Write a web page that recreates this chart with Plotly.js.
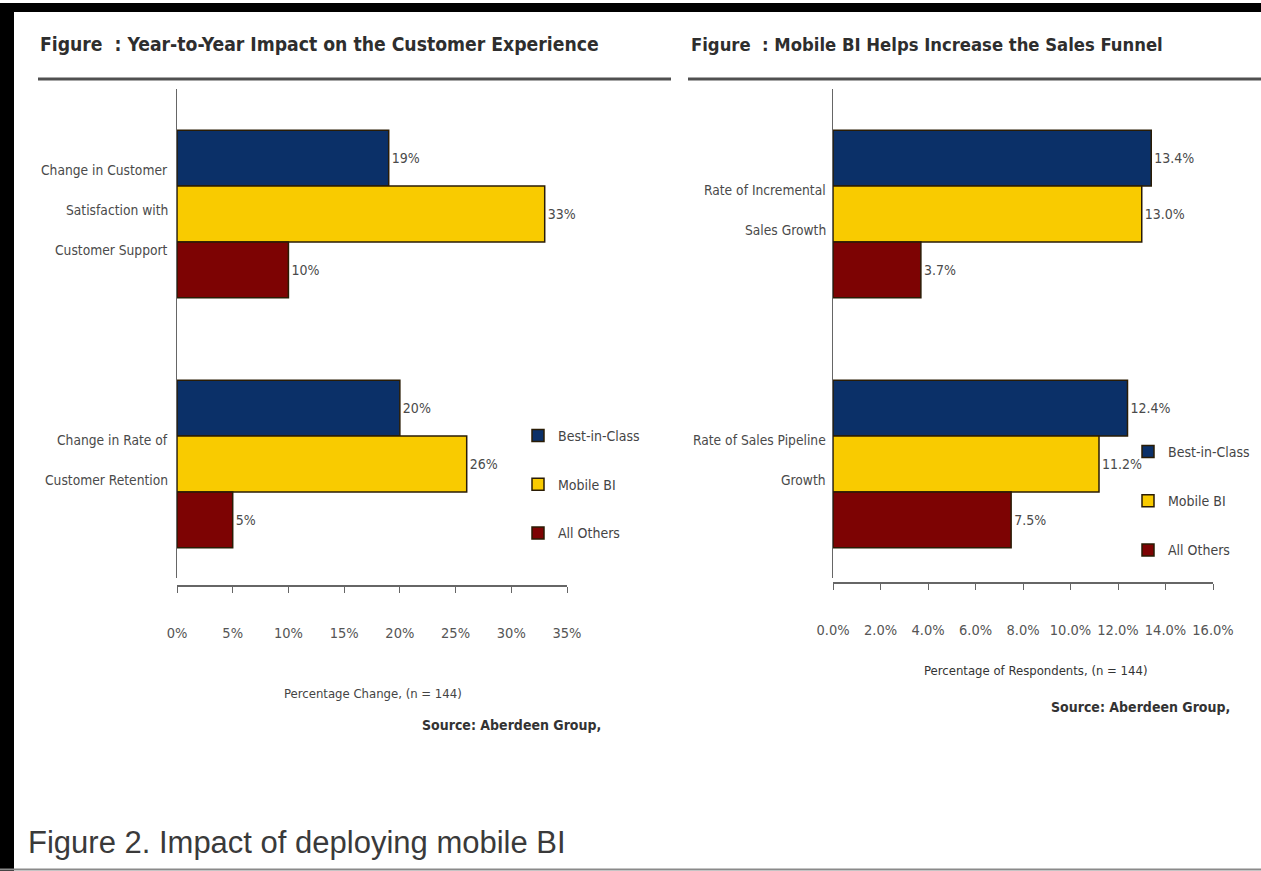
<!DOCTYPE html>
<html>
<head>
<meta charset="utf-8">
<script src="https://cdn.plot.ly/plotly-3.0.1.min.js"></script>
<style>
html,body{margin:0;padding:0;background:#fff;overflow:hidden;width:1261px;height:871px;}
#chart{width:1261px;height:871px;overflow:hidden;}
</style>
</head>
<body>
<div id="chart"></div>
<script>
// ---------- data ----------
const seriesNames = ["Best-in-Class", "Mobile BI", "All Others"];
const seriesColors = ["#0b3068", "#f9cb00", "#7d0303"];

const leftTitle = "Figure  : Year-to-Year Impact on the Customer Experience";
const leftCategories = ["Change in Customer\nSatisfaction with\nCustomer Support", "Change in Rate of\nCustomer Retention"];
const leftBestInClass = [19, 20];
const leftMobileBI = [33, 26];
const leftAllOthers = [10, 5];
const leftTickVals = [0, 5, 10, 15, 20, 25, 30, 35];
const leftAxisTitle = "Percentage Change, (n = 144)";

const rightTitle = "Figure  : Mobile BI Helps Increase the Sales Funnel";
const rightCategories = ["Rate of Incremental\nSales Growth", "Rate of Sales Pipeline\nGrowth"];
const rightBestInClass = [13.4, 12.4];
const rightMobileBI = [13.0, 11.2];
const rightAllOthers = [3.7, 7.5];
const rightTickVals = [0, 2, 4, 6, 8, 10, 12, 14, 16];
const rightAxisTitle = "Percentage of Respondents, (n = 144)";

const sourceText = "Source: Aberdeen Group,";
const footerText = "Figure 2. Impact of deploying mobile BI";

// ---------- helpers ----------
const W = 1261, H = 871;
const px = x => x / W;
const py = y => 1 - y / H;
const NARROW = "DejaVu Sans Condensed, Liberation Sans Narrow, Arial Narrow, sans-serif";
const TITLEF = "DejaVu Sans Condensed, Liberation Sans Narrow, sans-serif";

const leftSeries = [leftBestInClass, leftMobileBI, leftAllOthers];
const rightSeries = [rightBestInClass, rightMobileBI, rightAllOthers];

const traces = [];
seriesNames.forEach((name, i) => {
  traces.push({
    type: "bar", orientation: "h", name: name,
    x: leftSeries[i], y: leftCategories,
    xaxis: "x", yaxis: "y", legend: "legend", legendgroup: "L" + i,
    marker: {color: seriesColors[i], line: {color: "#2a1c05", width: 1.5}},
    text: leftSeries[i].map(v => v.toFixed(0) + "%"),
    textposition: "outside", cliponaxis: false,
    textfont: {family: NARROW, size: 14, color: "#4a4a4a"},
    hoverinfo: "skip"
  });
});
seriesNames.forEach((name, i) => {
  traces.push({
    type: "bar", orientation: "h", name: name,
    x: rightSeries[i], y: rightCategories,
    xaxis: "x2", yaxis: "y2", legend: "legend2", legendgroup: "R" + i,
    marker: {color: seriesColors[i], line: {color: "#2a1c05", width: 1.5}},
    text: rightSeries[i].map(v => v.toFixed(1) + "%"),
    textposition: "outside", cliponaxis: false,
    textfont: {family: NARROW, size: 14, color: "#4a4a4a"},
    hoverinfo: "skip"
  });
});

// category labels (wide line spacing) as annotations
const annotations = [];
function catLabels(cats, yref, xRight) {
  cats.forEach(c => {
    const lines = c.split("\n");
    const n = lines.length;
    lines.forEach((ln, j) => {
      annotations.push({
        text: ln, xref: "paper", yref: yref, x: xRight, y: c,
        xanchor: "right", yanchor: "middle", showarrow: false,
        yshift: ((n - 1) / 2 - j) * 40 + 4,
        font: {family: NARROW, size: 13.7, color: "#4a4a4a"}
      });
    });
  });
}
catLabels(leftCategories, "y", px(170));
catLabels(rightCategories, "y2", px(828));

// titles, axis titles, sources, footer
annotations.push(
  {text: "<b>" + leftTitle + "</b>", xref: "paper", yref: "paper", x: px(38), y: py(44),
   xanchor: "left", yanchor: "middle", showarrow: false, font: {family: TITLEF, size: 19.2, color: "#2e2e2e"}},
  {text: "<b>" + rightTitle + "</b>", xref: "paper", yref: "paper", x: px(689), y: py(44),
   xanchor: "left", yanchor: "middle", showarrow: false, font: {family: TITLEF, size: 18.3, color: "#2e2e2e"}},
  {text: leftAxisTitle, xref: "paper", yref: "paper", x: px(373), y: py(693),
   xanchor: "center", yanchor: "middle", showarrow: false, font: {family: NARROW, size: 13, color: "#444"}},
  {text: rightAxisTitle, xref: "paper", yref: "paper", x: px(1035), y: py(670),
   xanchor: "center", yanchor: "middle", showarrow: false, font: {family: NARROW, size: 13, color: "#333"}},
  {text: "<b>" + sourceText + "</b>", xref: "paper", yref: "paper", x: px(603), y: py(725),
   xanchor: "right", yanchor: "middle", showarrow: false, font: {family: TITLEF, size: 14, color: "#333"}},
  {text: "<b>" + sourceText + "</b>", xref: "paper", yref: "paper", x: px(1232), y: py(707),
   xanchor: "right", yanchor: "middle", showarrow: false, font: {family: TITLEF, size: 14, color: "#333"}},
  {text: footerText, xref: "paper", yref: "paper", x: px(26), y: py(842),
   xanchor: "left", yanchor: "middle", showarrow: false, font: {family: "Liberation Sans, Arial, sans-serif", size: 31, color: "#3a3a3a"}}
);

const shapes = [
  // black frame
  {type: "rect", xref: "paper", yref: "paper", x0: 0, x1: 1, y0: py(12), y1: py(3), fillcolor: "#000", line: {width: 0}},
  {type: "rect", xref: "paper", yref: "paper", x0: 0, x1: px(14), y0: 0, y1: py(3), fillcolor: "#000", line: {width: 0}},
  // bottom grey line
  {type: "line", xref: "paper", yref: "paper", x0: 0, x1: 1, y0: py(869.5), y1: py(869.5), line: {color: "#8a8a8a", width: 2}},
  // title rules
  {type: "line", xref: "paper", yref: "paper", x0: px(38), x1: px(671), y0: py(79), y1: py(79), line: {color: "#505050", width: 3}},
  {type: "line", xref: "paper", yref: "paper", x0: px(688), x1: 1, y0: py(79), y1: py(79), line: {color: "#505050", width: 3}}
];

const xCommon = {
  showgrid: false, zeroline: false, showline: true, linecolor: "#666", linewidth: 2,
  ticks: "outside", ticklen: 6, tickcolor: "#666", tickwidth: 1, tickangle: 0,
  tickfont: {family: NARROW, size: 14.5, color: "#555"},
  ticklabelstandoff: 28, fixedrange: true, anchor: "free"
};
const yCommon = {
  type: "category", showgrid: false, zeroline: false, showline: true, linecolor: "#666", linewidth: 1,
  showticklabels: false, ticks: "", fixedrange: true
};

const layout = {
  width: W, height: H, autosize: false,
  margin: {l: 0, r: 0, t: 0, b: 0, pad: 0},
  paper_bgcolor: "#fff", plot_bgcolor: "#fff",
  barmode: "group", bargap: 0.33, bargroupgap: 0,
  showlegend: true,
  xaxis: Object.assign({}, xCommon, {domain: [px(177), px(567)], range: [0, 35], tickvals: leftTickVals,
    ticktext: leftTickVals.map(v => v + "%"), position: py(586)}),
  yaxis: Object.assign({}, yCommon, {domain: [py(578), py(89)], range: [1.456, -0.5], anchor: "x"}),
  xaxis2: Object.assign({}, xCommon, {domain: [px(833), px(1213)], range: [0, 16], tickvals: rightTickVals,
    ticktext: rightTickVals.map(v => v.toFixed(1) + "%"), position: py(583)}),
  yaxis2: Object.assign({}, yCommon, {domain: [py(578), py(89)], range: [1.456, -0.5], anchor: "x2"}),
  legend: {x: px(518), y: py(420), xanchor: "left", yanchor: "top", traceorder: "grouped",
    tracegroupgap: 27.5, bgcolor: "rgba(0,0,0,0)", font: {family: NARROW, size: 14, color: "#444"}},
  legend2: {x: px(1128), y: py(436), xanchor: "left", yanchor: "top", traceorder: "grouped",
    tracegroupgap: 28, bgcolor: "rgba(0,0,0,0)", font: {family: NARROW, size: 14, color: "#444"}},
  annotations: annotations,
  shapes: shapes
};

Plotly.newPlot("chart", traces, layout, {displayModeBar: false, staticPlot: true, responsive: false});
</script>
</body>
</html>
